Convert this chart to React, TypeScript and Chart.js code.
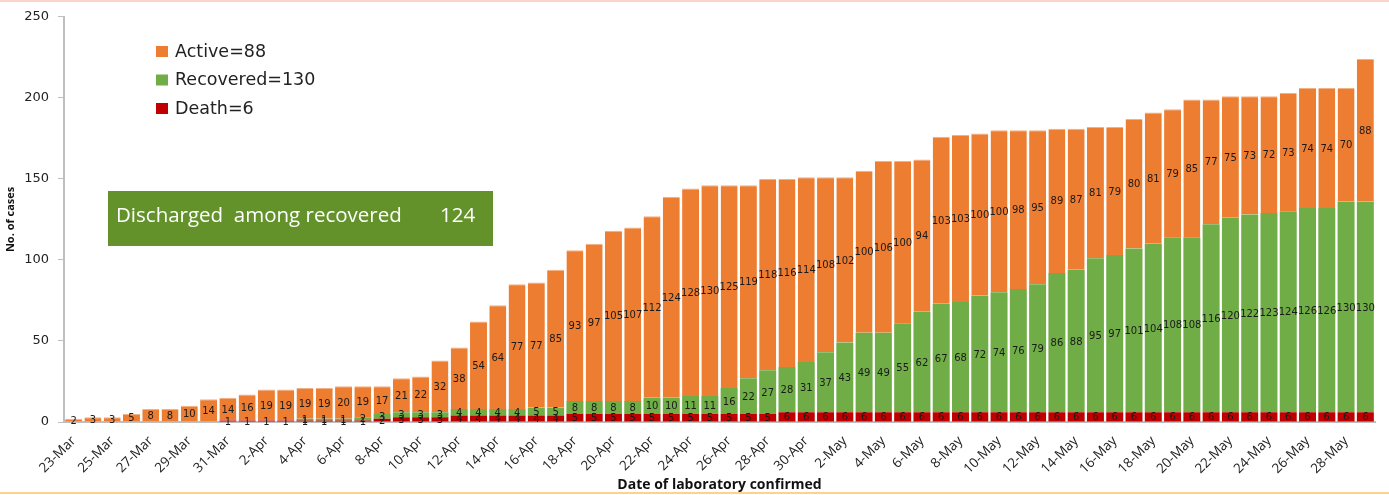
import React, { useEffect, useRef } from 'react';
import { Chart, registerables } from 'chart.js';

Chart.register(...registerables);

const dates = [
  '23-Mar', '24-Mar', '25-Mar', '26-Mar', '27-Mar', '28-Mar', '29-Mar', '30-Mar', '31-Mar',
  '1-Apr', '2-Apr', '3-Apr', '4-Apr', '5-Apr', '6-Apr', '7-Apr', '8-Apr', '9-Apr', '10-Apr',
  '11-Apr', '12-Apr', '13-Apr', '14-Apr', '15-Apr', '16-Apr', '17-Apr', '18-Apr', '19-Apr', '20-Apr',
  '21-Apr', '22-Apr', '23-Apr', '24-Apr', '25-Apr', '26-Apr', '27-Apr', '28-Apr', '29-Apr', '30-Apr',
  '1-May', '2-May', '3-May', '4-May', '5-May', '6-May', '7-May', '8-May', '9-May', '10-May',
  '11-May', '12-May', '13-May', '14-May', '15-May', '16-May', '17-May', '18-May', '19-May', '20-May',
  '21-May', '22-May', '23-May', '24-May', '25-May', '26-May', '27-May', '28-May', '29-May',
];

const active = [
  2, 3, 3, 5, 8, 8, 10, 14, 14, 16, 19, 19, 19, 19, 20, 19, 17, 21, 22, 32,
  38, 54, 64, 77, 77, 85, 93, 97, 105, 107, 112, 124, 128, 130, 125, 119, 118, 116, 114, 108,
  102, 100, 106, 100, 94, 103, 103, 100, 100, 98, 95, 89, 87, 81, 79, 80, 81, 79, 85, 77,
  75, 73, 72, 73, 74, 74, 70, 88,
];

const recovered = [
  0, 0, 0, 0, 0, 0, 0, 0, 0, 0, 0, 0, 1, 1, 1, 2, 3, 3, 3, 3,
  4, 4, 4, 4, 5, 5, 8, 8, 8, 8, 10, 10, 11, 11, 16, 22, 27, 28, 31, 37,
  43, 49, 49, 55, 62, 67, 68, 72, 74, 76, 79, 86, 88, 95, 97, 101, 104, 108, 108, 116,
  120, 122, 123, 124, 126, 126, 130, 130,
];

const death = [
  0, 0, 0, 0, 0, 0, 0, 0, 1, 1, 1, 1, 1, 1, 1, 1, 2, 3, 3, 3,
  4, 4, 4, 4, 4, 4, 5, 5, 5, 5, 5, 5, 5, 5, 5, 5, 5, 6, 6, 6,
  6, 6, 6, 6, 6, 6, 6, 6, 6, 6, 6, 6, 6, 6, 6, 6, 6, 6, 6, 6,
  6, 6, 6, 6, 6, 6, 6, 6,
];

const yTicks = [0, 50, 100, 150, 200, 250];

const legendLabels = ['Active=88', 'Recovered=130', 'Death=6'];
const noteText = 'Discharged  among recovered';
const noteValue = '124';

const COLORS = { active: '#ED7D31', recovered: '#70AD47', death: '#C00000' };

const overlayPlugin = {
  id: 'overlay',
  beforeDraw(chart: any) {
    const ctx = chart.ctx;
    ctx.save();
    ctx.fillStyle = '#ffffff';
    ctx.fillRect(0, 0, chart.width, chart.height);
    ctx.restore();
  },
  afterDatasetsDraw(chart: any) {
    const ctx = chart.ctx;
    ctx.save();
    ctx.font = '10px "DejaVu Sans"';
    ctx.fillStyle = '#1a1a1a';
    ctx.textAlign = 'center';
    ctx.textBaseline = 'middle';
    chart.data.datasets.forEach((ds: any, di: number) => {
      const meta = chart.getDatasetMeta(di);
      meta.data.forEach((el: any, i: number) => {
        const v = ds.data[i];
        if (!v) return;
        const p = el.getProps(['x', 'y', 'base'], true);
        ctx.fillText(String(v), p.x, (p.y + p.base) / 2 + 1);
      });
    });
    ctx.restore();
  },
  afterDraw(chart: any) {
    const ctx = chart.ctx;
    ctx.save();
    // legend
    const legendColors = [COLORS.active, COLORS.recovered, COLORS.death];
    ctx.font = '17.5px "DejaVu Sans"';
    ctx.textBaseline = 'middle';
    ctx.textAlign = 'left';
    legendLabels.forEach((t, i) => {
      const cy = 51 + i * 28.5;
      ctx.fillStyle = legendColors[i];
      ctx.fillRect(156, cy - 5, 12, 11);
      ctx.fillStyle = '#222222';
      ctx.fillText(t, 175, cy + 1);
    });
    // note box
    ctx.fillStyle = '#63922A';
    ctx.fillRect(108, 191, 385, 55);
    ctx.fillStyle = '#ffffff';
    ctx.font = '20.5px "Open Sans"';
    ctx.fillText(noteText, 116, 216);
    ctx.fillText(noteValue, 440, 216);
    // frame lines
    ctx.fillStyle = '#FBD5C9';
    ctx.fillRect(0, 0, chart.width, 2);
    ctx.fillStyle = '#FFD28C';
    ctx.fillRect(0, 492, chart.width, 2);
    ctx.restore();
  },
};

export default function App() {
  const ref = useRef<HTMLCanvasElement | null>(null);
  useEffect(() => {
    document.body.style.margin = '0';
    const canvas = ref.current;
    if (!canvas) return;
    const chart = new Chart(canvas, {
      type: 'bar',
      data: {
        labels: dates,
        datasets: [
          { label: 'Death=6', data: death, backgroundColor: COLORS.death, barPercentage: 0.88, categoryPercentage: 1 },
          { label: 'Recovered=130', data: recovered, backgroundColor: COLORS.recovered, barPercentage: 0.88, categoryPercentage: 1 },
          {
            label: 'Active=88', data: active, backgroundColor: COLORS.active, barPercentage: 0.88, categoryPercentage: 1,
            borderColor: '#F4B183', borderWidth: { top: 1, left: 0, right: 0, bottom: 0 }, borderSkipped: 'bottom',
          },
        ],
      },
      options: {
        responsive: false,
        animation: false,
        layout: { padding: { top: 14, right: 14, left: 0, bottom: 0 } },
        plugins: {
          legend: { display: false },
          tooltip: { enabled: false },
        },
        scales: {
          x: {
            stacked: true,
            grid: { display: false },
            border: { display: true, color: '#BFBFBF', width: 2 },
            ticks: {
              autoSkip: false,
              maxRotation: 45,
              minRotation: 45,
              color: '#222222',
              font: { family: '"Open Sans"', size: 13.5 },
              padding: 3,
              callback: (_v: any, idx: number) => (idx % 2 === 0 ? dates[idx] : ''),
            },
            title: {
              display: true,
              text: 'Date of laboratory confirmed',
              color: '#111111',
              font: { family: '"Open Sans"', size: 14, weight: 'bold' },
              padding: { top: 0, bottom: 2 },
            },
            afterFit: (s: any) => { s.height = 73; },
          },
          y: {
            stacked: true,
            min: 0,
            max: 250,
            afterBuildTicks: (s: any) => { s.ticks = yTicks.map((v) => ({ value: v })); },
            grid: { display: true, drawOnChartArea: false, drawTicks: true, tickLength: 6, color: '#BFBFBF' },
            border: { display: true, color: '#BFBFBF', width: 2 },
            ticks: {
              color: '#222222',
              font: { family: '"DejaVu Sans"', size: 13 },
              padding: 9,
            },
            title: {
              display: true,
              text: 'No. of cases',
              color: '#111111',
              font: { family: '"Open Sans"', size: 11, weight: 'bold' },
              padding: { top: 4, bottom: 0 },
            },
            afterFit: (s: any) => { s.width = 64; },
          },
        },
      },
      plugins: [overlayPlugin],
    });
    return () => chart.destroy();
  }, []);
  return <canvas ref={ref} width={1389} height={495} style={{ display: 'block' }} />;
}
